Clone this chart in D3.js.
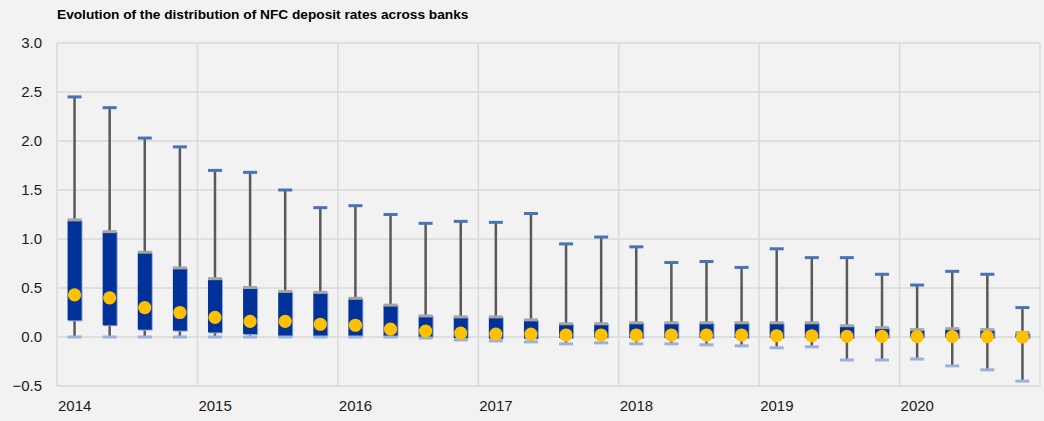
<!DOCTYPE html>
<html>
<head>
<meta charset="utf-8">
<script src="https://cdn.jsdelivr.net/npm/d3@7"></script>
<style>
  body { margin: 0; background: #f2f2f2; }
  svg { display: block; font-family: "Liberation Sans", Arial, sans-serif; }
</style>
</head>
<body>
<div id="chart"></div>
<script>
const categories = [
  "2014Q1", "2014Q2", "2014Q3", "2014Q4", "2015Q1", "2015Q2", "2015Q3", "2015Q4",
  "2016Q1", "2016Q2", "2016Q3", "2016Q4", "2017Q1", "2017Q2", "2017Q3", "2017Q4",
  "2018Q1", "2018Q2", "2018Q3", "2018Q4", "2019Q1", "2019Q2", "2019Q3", "2019Q4",
  "2020Q1", "2020Q2", "2020Q3", "2020Q4"
];
const maxRate = [
  2.45, 2.34, 2.03, 1.94, 1.70, 1.68, 1.50, 1.32, 1.34, 1.25, 1.16, 1.18, 1.17, 1.26,
  0.95, 1.02, 0.92, 0.76, 0.77, 0.71, 0.90, 0.81, 0.81, 0.64, 0.53, 0.67, 0.64, 0.30
];
const p75 = [
  1.19, 1.07, 0.86, 0.70, 0.59, 0.50, 0.46, 0.45, 0.39, 0.32, 0.21, 0.20, 0.20, 0.17,
  0.13, 0.13, 0.14, 0.14, 0.14, 0.14, 0.14, 0.14, 0.11, 0.09, 0.07, 0.08, 0.07, 0.04
];
const median = [
  0.43, 0.40, 0.30, 0.25, 0.20, 0.16, 0.16, 0.13, 0.12, 0.08, 0.06, 0.04, 0.03, 0.03,
  0.02, 0.02, 0.02, 0.02, 0.02, 0.02, 0.013, 0.013, 0.007, 0.007, 0.003, 0.003, 0.003, 0.0
];
const p25 = [
  0.17, 0.12, 0.075, 0.065, 0.047, 0.03, 0.01, 0.01, 0.01, 0.01, 0.0, -0.01, -0.015, -0.015,
  -0.01, -0.005, -0.01, -0.01, -0.01, -0.01, -0.01, -0.01, -0.01, -0.005, -0.005, -0.01, -0.01, -0.01
];
const minRate = [
  0.0, 0.0, 0.0, 0.0, 0.0, 0.0, 0.0, 0.0, 0.0, 0.0, -0.01, -0.03, -0.04, -0.05,
  -0.07, -0.06, -0.07, -0.07, -0.08, -0.09, -0.11, -0.10, -0.235, -0.235, -0.225, -0.295, -0.335, -0.45
];
const yearLabels = ["2014", "2015", "2016", "2017", "2018", "2019", "2020"];
const yTicks = [-0.5, 0, 0.5, 1, 1.5, 2, 2.5, 3];

const data = categories.map((c, i) => ({
  cat: c, max: maxRate[i], q3: p75[i], med: median[i], q1: p25[i], min: minRate[i]
}));

const W = 1044, H = 421;
const margin = {top: 43, right: 4, bottom: 35, left: 57};
const width = W - margin.left - margin.right,
    height = H - margin.top - margin.bottom;

const svg = d3.select("#chart")
  .append("svg")
    .attr("width", W)
    .attr("height", H);

svg.append("text")
  .attr("x", 57)
  .attr("y", 19)
  .attr("font-size", 13.7)
  .attr("font-weight", "bold")
  .attr("fill", "#000")
  .text("Evolution of the distribution of NFC deposit rates across banks");

const g = svg.append("g")
  .attr("transform", `translate(${margin.left},${margin.top})`);

const x = d3.scaleBand()
  .domain(categories)
  .range([0, width]);

const y = d3.scaleLinear()
  .domain([-0.5, 3])
  .range([height, 0]);

// grid
g.append("g")
  .selectAll("line")
  .data(yTicks)
  .join("line")
    .attr("x1", 0)
    .attr("x2", width)
    .attr("y1", d => y(d))
    .attr("y2", d => y(d))
    .attr("stroke", "#d9d9d9")
    .attr("stroke-width", 1.5);

g.append("g")
  .selectAll("line")
  .data(yearLabels.map(yr => x(yr + "Q1")).concat([width]))
  .join("line")
    .attr("x1", d => d)
    .attr("x2", d => d)
    .attr("y1", 0)
    .attr("y2", height)
    .attr("stroke", "#d9d9d9")
    .attr("stroke-width", 1.5);

// y axis labels
g.append("g")
  .selectAll("text")
  .data(yTicks)
  .join("text")
    .attr("x", -15)
    .attr("y", d => y(d))
    .attr("dy", "0.35em")
    .attr("text-anchor", "end")
    .attr("font-size", 15)
    .attr("fill", "#1a1a1a")
    .text(d => d3.format(".1f")(d));

// x axis labels
g.append("g")
  .selectAll("text")
  .data(yearLabels)
  .join("text")
    .attr("x", d => x(d + "Q1") + 1)
    .attr("y", height + 25)
    .attr("font-size", 15)
    .attr("fill", "#1a1a1a")
    .text(d => d);

const bw = 14, half = bw / 2;
const cx = d => x(d.cat) + x.bandwidth() / 2;

const marks = g.append("g")
  .selectAll("g")
  .data(data)
  .join("g");

// whisker
marks.append("line")
  .attr("x1", cx).attr("x2", cx)
  .attr("y1", d => y(d.max))
  .attr("y2", d => y(d.min))
  .attr("stroke", "#595959")
  .attr("stroke-width", 2.5);

// box shadow edge
marks.append("rect")
  .attr("x", d => cx(d) - half + 1)
  .attr("y", d => y(d.q3))
  .attr("width", bw)
  .attr("height", d => Math.max(0, y(d.q1) - y(d.q3)) + 1)
  .attr("fill", "#8faadc");

// box
marks.append("rect")
  .attr("x", d => cx(d) - half)
  .attr("y", d => y(d.q3))
  .attr("width", bw)
  .attr("height", d => Math.max(0, y(d.q1) - y(d.q3)))
  .attr("fill", "#003299");

// p75 cap
marks.append("rect")
  .attr("x", d => cx(d) - half)
  .attr("y", d => y(d.q3) - 2)
  .attr("width", bw)
  .attr("height", 3)
  .attr("fill", "#a5a5a5");

// max cap
marks.append("rect")
  .attr("x", d => cx(d) - half)
  .attr("y", d => y(d.max) - 1.5)
  .attr("width", bw)
  .attr("height", 3)
  .attr("fill", "#4a72b8");

// min cap
marks.append("rect")
  .attr("x", d => cx(d) - half)
  .attr("y", d => y(d.min) - 1.5)
  .attr("width", bw)
  .attr("height", 3)
  .attr("fill", "#9ab1d8");

// median dot
marks.append("circle")
  .attr("cx", cx)
  .attr("cy", d => y(d.med))
  .attr("r", 6.6)
  .attr("fill", "#ffc000");
</script>
</body>
</html>
